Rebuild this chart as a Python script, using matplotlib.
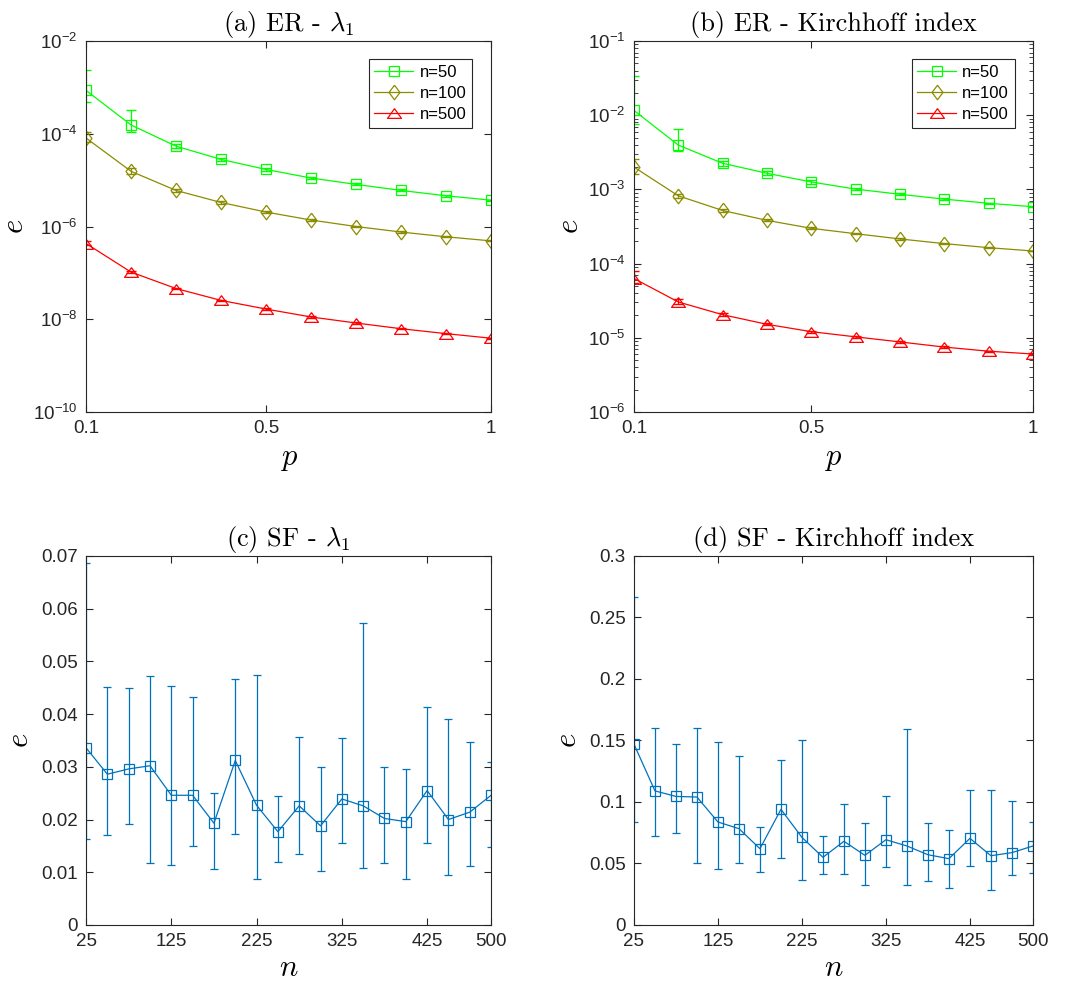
##############################################################################
# Relative error panels (ER / SF networks)
##############################################################################
import numpy as np
import matplotlib
matplotlib.use('Agg')
import matplotlib.pyplot as plt
from matplotlib.ticker import FixedLocator, LogLocator, NullLocator, NullFormatter

plt.rcParams['font.family'] = ['Liberation Sans', 'DejaVu Sans']
plt.rcParams['mathtext.fontset'] = 'cm'
plt.rcParams['axes.unicode_minus'] = True
###############################################################################
# Data
###############################################################################
P_VALS = [0.1, 0.2, 0.3, 0.4, 0.5, 0.6, 0.7, 0.8, 0.9, 1.0]
LABELS = ['n=50', 'n=100', 'n=500']
# (a) ER - lambda_1 -----------------------------------------------------------
A50 = [8.6e-4, 1.55e-4, 5.4e-5, 2.8e-5, 1.7e-5, 1.11e-5, 8.1e-6, 6.0e-6, 4.6e-6, 3.7e-6]
A50_HI = [2.4e-3, 3.2e-4, 6.0e-5, 3.0e-5, 1.8e-5, 1.17e-5, 8.5e-6, 6.3e-6, 4.8e-6, 3.8e-6]
A50_LO = [4.8e-4, 1.09e-4, 4.9e-5, 2.6e-5, 1.6e-5, 1.05e-5, 7.7e-6, 5.7e-6, 4.4e-6, 3.6e-6]
A100 = [8.1e-5, 1.55e-5, 6.0e-6, 3.3e-6, 2.05e-6, 1.38e-6, 1.0e-6, 7.6e-7, 6.0e-7, 4.9e-7]
A100_HI = [1.09e-4, 1.8e-5, 6.4e-6, 3.5e-6, 2.15e-6, 1.44e-6, 1.04e-6, 7.9e-7, 6.2e-7, 5.0e-7]
A100_LO = [6.5e-5, 1.35e-5, 5.6e-6, 3.1e-6, 1.95e-6, 1.32e-6, 0.96e-6, 7.3e-7, 5.8e-7, 4.8e-7]
A500 = [4.3e-7, 1.04e-7, 4.6e-8, 2.55e-8, 1.66e-8, 1.12e-8, 8.3e-9, 6.25e-9, 4.9e-9, 3.9e-9]
A500_HI = [4.8e-7, 1.1e-7, 4.8e-8, 2.65e-8, 1.72e-8, 1.16e-8, 8.6e-9, 6.45e-9, 5.05e-9, 4.0e-9]
A500_LO = [3.9e-7, 0.98e-7, 4.4e-8, 2.45e-8, 1.60e-8, 1.08e-8, 8.0e-9, 6.05e-9, 4.75e-9, 3.8e-9]
# (b) ER - Kirchhoff index ----------------------------------------------------
B50 = [1.16e-2, 3.96e-3, 2.25e-3, 1.65e-3, 1.26e-3, 1.01e-3, 8.6e-4, 7.4e-4, 6.5e-4, 5.85e-4]
B50_HI = [3.4e-2, 6.45e-3, 2.45e-3, 1.75e-3, 1.32e-3, 1.05e-3, 8.9e-4, 7.6e-4, 6.6e-4, 5.95e-4]
B50_LO = [7.7e-3, 3.26e-3, 2.08e-3, 1.56e-3, 1.2e-3, 0.97e-3, 8.3e-4, 7.2e-4, 6.4e-4, 5.75e-4]
B100 = [2.0e-3, 8.2e-4, 5.2e-4, 3.83e-4, 2.99e-4, 2.53e-4, 2.15e-4, 1.86e-4, 1.64e-4, 1.48e-4]
B100_HI = [2.57e-3, 8.8e-4, 5.45e-4, 3.95e-4, 3.07e-4, 2.58e-4, 2.19e-4, 1.89e-4, 1.66e-4, 1.5e-4]
B100_LO = [1.63e-3, 7.7e-4, 4.95e-4, 3.71e-4, 2.91e-4, 2.48e-4, 2.11e-4, 1.83e-4, 1.62e-4, 1.46e-4]
B500 = [6.3e-5, 3.04e-5, 2.05e-5, 1.52e-5, 1.21e-5, 1.03e-5, 8.8e-6, 7.5e-6, 6.6e-6, 6.05e-6]
B500_HI = [7.9e-5, 3.3e-5, 2.15e-5, 1.58e-5, 1.25e-5, 1.06e-5, 9.0e-6, 7.65e-6, 6.7e-6, 6.15e-6]
B500_LO = [5.4e-5, 2.85e-5, 1.95e-5, 1.47e-5, 1.17e-5, 1.0e-5, 8.6e-6, 7.35e-6, 6.5e-6, 5.95e-6]
# (c), (d) SF -----------------------------------------------------------------
N_VALS = [25, 50, 75, 100, 125, 150, 175, 200, 225, 250,
          275, 300, 325, 350, 375, 400, 425, 450, 475, 500]
C_MEAN = [0.0336, 0.0286, 0.0296, 0.0302, 0.0246, 0.0246, 0.0193, 0.0312, 0.0227, 0.0177,
          0.0226, 0.0188, 0.0239, 0.0226, 0.0202, 0.0196, 0.0255, 0.0200, 0.0214, 0.0246]
C_HI = [0.0687, 0.0452, 0.0449, 0.0473, 0.0454, 0.0432, 0.0251, 0.0466, 0.0474, 0.0244,
        0.0357, 0.0300, 0.0355, 0.0573, 0.0300, 0.0296, 0.0413, 0.0390, 0.0348, 0.0310]
C_LO = [0.0163, 0.0171, 0.0191, 0.0118, 0.0114, 0.0150, 0.0107, 0.0173, 0.0088, 0.0119,
        0.0135, 0.0102, 0.0155, 0.0108, 0.0118, 0.0088, 0.0155, 0.0094, 0.0111, 0.0148]
D_MEAN = [0.147, 0.109, 0.1045, 0.104, 0.0837, 0.0783, 0.062, 0.094, 0.0712, 0.055,
          0.068, 0.0566, 0.0693, 0.0642, 0.0571, 0.0539, 0.0704, 0.0563, 0.0588, 0.0642]
D_HI = [0.2665, 0.160, 0.147, 0.1603, 0.1484, 0.1373, 0.0796, 0.1338, 0.1503, 0.0723,
        0.098, 0.0826, 0.1048, 0.159, 0.0831, 0.0769, 0.1094, 0.1094, 0.1007, 0.0834]
D_LO = [0.0834, 0.0726, 0.075, 0.0501, 0.0458, 0.0501, 0.0428, 0.0544, 0.0366, 0.0412,
        0.0412, 0.0328, 0.0474, 0.0325, 0.0355, 0.0301, 0.0482, 0.0284, 0.0409, 0.042]
###############################################################################
# Styles
###############################################################################
(DARK, BLUE) = ('#262626', '#0072BD')
CLRS = ['#00FF00', '#8C8C00', '#FF0000']
TRI = [(0, 0.7), (-1, -0.7), (1, -0.7), (0, 0.7)]
DIA = [(0, 1), (0.75, 0), (0, -1), (-0.75, 0), (0, 1)]
MRKS = [('s', 7), (DIA, 10.5), (TRI, 10)]
TITLE_KW = dict(family='cmr10', fontsize=19, color='black', pad=7)
LBL_FS = 22


def style_axes(ax):
    ax.tick_params(which='both', direction='in', top=True, right=True,
                   colors=DARK, labelsize=13.5, pad=6)
    ax.tick_params(which='major', length=5)
    ax.tick_params(which='minor', length=3)
    for sp in ax.spines.values():
        sp.set_color(DARK)
        sp.set_linewidth(0.8)


def er_panel(ax, series, ylim, ystep, minor, title, leg_x):
    for (k, (m, hi, lo)) in enumerate(series):
        (mk, ms) = MRKS[k]
        m = np.array(m)
        yerr = [m - np.array(lo), np.array(hi) - m]
        ax.errorbar(P_VALS, m, yerr=yerr, fmt='none', ecolor=CLRS[k],
                    capsize=3.5, elinewidth=0.9)
        ax.plot(P_VALS, m, color=CLRS[k], lw=0.9, marker=mk, ms=ms,
                mfc='none', mec=CLRS[k], mew=0.9, label=LABELS[k])
    ax.set_yscale('log')
    ax.set_xlim(0.1, 1.0)
    ax.set_ylim(*ylim)
    ax.xaxis.set_major_locator(FixedLocator([0.1, 0.5, 1.0]))
    ax.set_xticklabels(['0.1', '0.5', '1'])
    ax.xaxis.set_minor_locator(NullLocator())
    exps = np.arange(np.log10(ylim[0]), np.log10(ylim[1]) + 0.5, ystep)
    ax.yaxis.set_major_locator(FixedLocator(10.0 ** exps))
    ax.set_yticklabels([r'$\mathdefault{10^{%d}}$' % e for e in exps])
    if minor:
        ax.yaxis.set_minor_locator(LogLocator(base=10, subs=np.arange(2, 10)))
    else:
        ax.yaxis.set_minor_locator(NullLocator())
    ax.yaxis.set_minor_formatter(NullFormatter())
    style_axes(ax)
    ax.set_xlabel('$p$', fontsize=LBL_FS, labelpad=4)
    ax.set_ylabel('$e$', fontsize=LBL_FS, labelpad=2)
    ax.set_title(title, **TITLE_KW)
    leg = ax.legend(loc='upper right', bbox_to_anchor=(leg_x, 0.951),
                    fontsize=12, fancybox=False, framealpha=1,
                    edgecolor=DARK, borderpad=0.35, handlelength=2.3,
                    handletextpad=0.4, labelspacing=0.35, borderaxespad=0)
    leg.get_frame().set_linewidth(0.8)


def sf_panel(ax, m, hi, lo, ylim, yticks, ylabels, title):
    m = np.array(m)
    yerr = [m - np.array(lo), np.array(hi) - m]
    ax.errorbar(N_VALS, m, yerr=yerr, color=BLUE, lw=0.9, marker='s', ms=7,
                mfc='none', mec=BLUE, mew=0.9, capsize=3, elinewidth=0.9)
    ax.set_xlim(25, 500)
    ax.set_ylim(*ylim)
    ax.set_xticks([25, 125, 225, 325, 425, 500])
    ax.set_yticks(yticks)
    ax.set_yticklabels(ylabels)
    style_axes(ax)
    ax.set_xlabel('$n$', fontsize=LBL_FS, labelpad=2)
    ax.set_ylabel('$e$', fontsize=LBL_FS, labelpad=4)
    ax.set_title(title, **TITLE_KW)
###############################################################################
# Plot
###############################################################################
fig = plt.figure(figsize=(10.85, 9.84), dpi=100)
axA = fig.add_axes([0.0793, 0.5813, 0.3733, 0.377])
axB = fig.add_axes([0.5843, 0.5813, 0.3677, 0.377])
axC = fig.add_axes([0.0793, 0.0600, 0.3733, 0.375])
axD = fig.add_axes([0.5843, 0.0600, 0.3677, 0.375])

er_panel(axA, [(A50, A50_HI, A50_LO), (A100, A100_HI, A100_LO), (A500, A500_HI, A500_LO)],
         (1e-10, 1e-2), 2, False, r'(a) ER - $\lambda_1$', 0.953)
er_panel(axB, [(B50, B50_HI, B50_LO), (B100, B100_HI, B100_LO), (B500, B500_HI, B500_LO)],
         (1e-6, 1e-1), 1, True, '(b) ER - Kirchhoff index', 0.955)
sf_panel(axC, C_MEAN, C_HI, C_LO, (0, 0.07),
         [0, 0.01, 0.02, 0.03, 0.04, 0.05, 0.06, 0.07],
         ['0', '0.01', '0.02', '0.03', '0.04', '0.05', '0.06', '0.07'],
         r'(c) SF - $\lambda_1$')
sf_panel(axD, D_MEAN, D_HI, D_LO, (0, 0.3),
         [0, 0.05, 0.1, 0.15, 0.2, 0.25, 0.3],
         ['0', '0.05', '0.1', '0.15', '0.2', '0.25', '0.3'],
         '(d) SF - Kirchhoff index')

plt.savefig('out.png', dpi=100, facecolor='w')
plt.close('all')
